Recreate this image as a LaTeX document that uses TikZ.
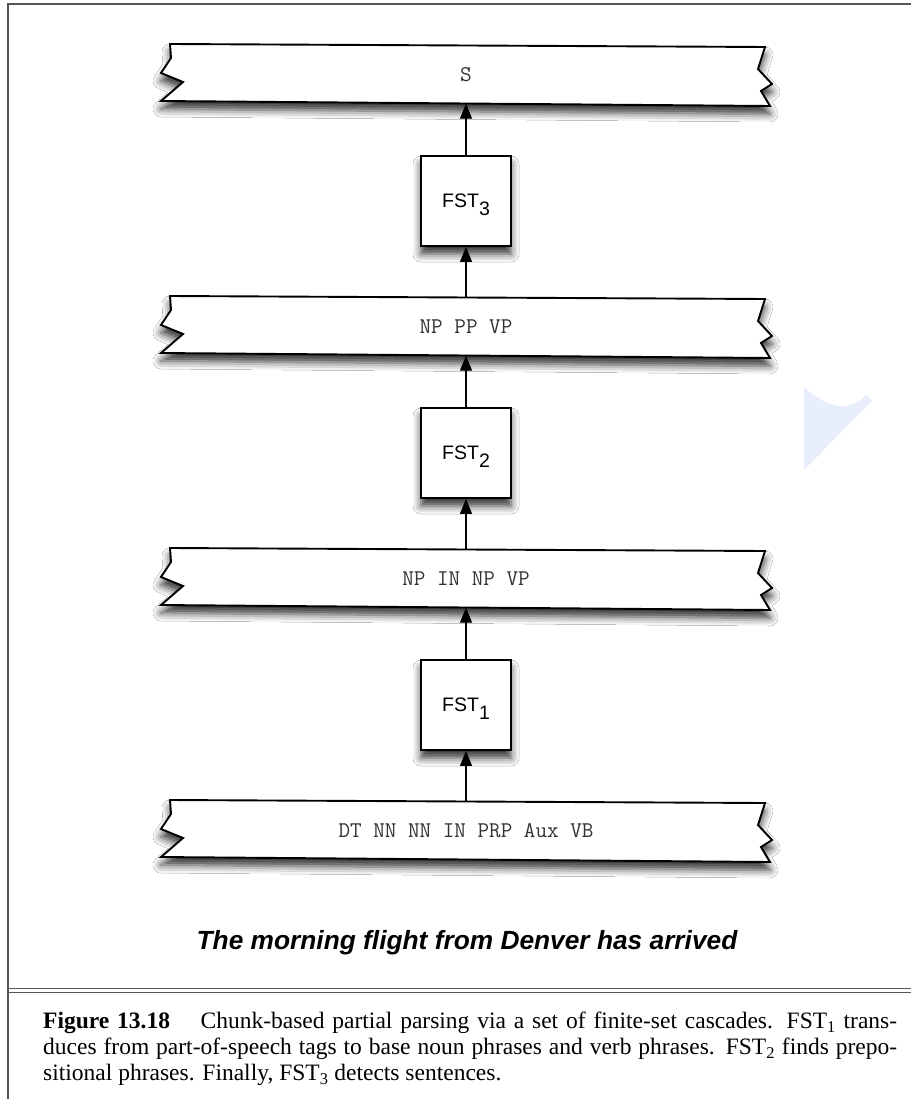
\documentclass[tikz,border=0pt]{standalone}
\usepackage{fontspec}
\setmainfont{Liberation Serif}
\newfontfamily\helv{Liberation Sans}
\usetikzlibrary{arrows.meta,shadows.blur}
\definecolor{wm}{RGB}{232,238,252}
\definecolor{framegray}{RGB}{85,85,85}
\newcommand\tapeat[1]{%
  \draw[tapeline] (170,#1) -- (171,{#1+14}) -- (161,{#1+29}) -- (183,{#1+38}) -- (161,{#1+57})
     -- (770,{#1+62}) -- (761,{#1+47}) -- (772,{#1+40}) -- (758,{#1+25}) -- (765,{#1+3}) -- cycle;}
\begin{document}
\begin{tikzpicture}[x=1pt,y=-1pt,
  tapeline/.style={draw=black, line width=1.9pt, fill=white, line join=miter,
    blur shadow={shadow xshift=0pt, shadow yshift=-8pt, shadow blur radius=8pt, shadow opacity=80}},
  fstbox/.style={draw=black, line width=1.9pt, fill=white, minimum width=90pt, minimum height=90pt, inner sep=0pt,
    blur shadow={shadow xshift=0pt, shadow yshift=-8pt, shadow blur radius=8pt, shadow opacity=80}},
  tapetext/.style={inner sep=0pt, minimum width=600pt, minimum height=58pt,
    font=\ttfamily\fontsize{22.5}{24}\selectfont, text=black!80},
  fstlabel/.style={inner sep=0pt, font=\helv\fontsize{19.5}{22}\selectfont},
  arr/.style={draw=black, line width=1.3pt, -{Triangle[length=15pt,width=12pt,fill=black]}},
  frameline/.style={draw=framegray, line width=1.4pt}
]
\useasboundingbox (0,0) rectangle (911,1099);
\fill[white] (0,0) rectangle (911,1099);
% watermark piece
\fill[wm] (804,387) .. controls (830,410) and (850,412) .. (866,395) -- (872,401) -- (804,470) -- cycle;
% frame
\draw[frameline] (911,4) -- (8,4) -- (8,1099);
\draw[draw=framegray, line width=1.1pt] (8,988.5) -- (911,988.5);
\draw[draw=framegray, line width=1.1pt] (8,992.5) -- (911,992.5);
% tapes
\tapeat{44}
\tapeat{296}
\tapeat{548}
\tapeat{800}
\node[tapetext] (t1) at (466,74.5) {S};
\node[tapetext] (t2) at (466,326.5) {NP PP VP};
\node[tapetext] (t3) at (466,578.5) {NP IN NP VP};
\node[tapetext] (t4) at (466,830.5) {DT NN NN IN PRP Aux VB};
% FST boxes
\node[fstbox] (f3) at (466,201) {};
\node[fstbox] (f2) at (466,453) {};
\node[fstbox] (f1) at (466,705) {};
\node[fstlabel] (l3) at (466,204.5) {FST\raisebox{-7.7pt}{3}};
\node[fstlabel] (l2) at (466,456.5) {FST\raisebox{-7.7pt}{2}};
\node[fstlabel] (l1) at (466,708.5) {FST\raisebox{-7.7pt}{1}};
% arrows
\draw[arr] (t4.north) -- (f1.south);
\draw[arr] (f1.north) -- (t3.south);
\draw[arr] (t3.north) -- (f2.south);
\draw[arr] (f2.north) -- (t2.south);
\draw[arr] (t2.north) -- (f3.south);
\draw[arr] (f3.north) -- (t1.south);
% sentence
\node[font=\helv\bfseries\itshape\fontsize{26.3}{30}\selectfont, inner sep=0pt] (sent) at (467,943)
  {The morning flight from Denver has arrived};
% caption
\node[anchor=north west, inner sep=0pt, text width=854pt, align=justify,
  font=\fontsize{23.5}{26}\selectfont] (cap) at (43,1012)
  {\textbf{Figure 13.18}\hspace{1.3em}Chunk-based partial parsing via a set of finite-set cascades. FST\textsubscript{1} trans-\linebreak
   duces from part-of-speech tags to base noun phrases and verb phrases. FST\textsubscript{2} finds prepo-\linebreak
   sitional phrases. Finally, FST\textsubscript{3} detects sentences.\par};
\end{tikzpicture}
\end{document}
